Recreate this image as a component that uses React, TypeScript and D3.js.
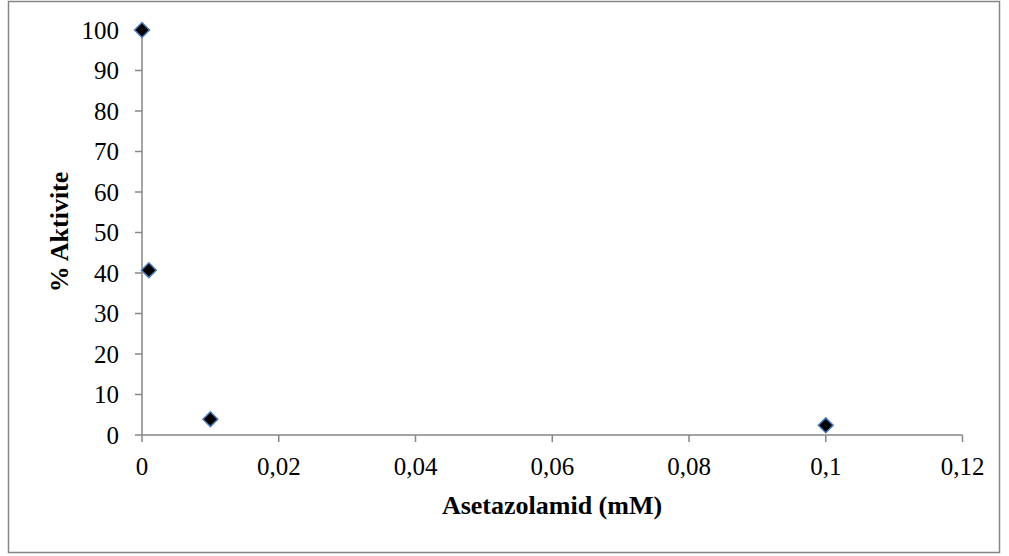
import React from 'react';
import * as d3 from 'd3';

const concentrations = [0, 0.001, 0.01, 0.1];
const activities = [100, 40.7, 3.9, 2.4];
const xTicks = [0, 0.02, 0.04, 0.06, 0.08, 0.1, 0.12];
const yTicks = [0, 10, 20, 30, 40, 50, 60, 70, 80, 90, 100];

export default function App() {
  const width = 1009;
  const height = 556;
  const x = d3.scaleLinear().domain([0, 0.12]).range([142, 962.5]);
  const y = d3.scaleLinear().domain([0, 100]).range([435, 30]);
  const fmt = (v: number) => String(+v.toFixed(2)).replace('.', ',');
  const diamond = d3.symbol().type(d3.symbolDiamond2).size(140);
  const axisColor = '#868686';
  const font = '"Liberation Serif", "Times New Roman", serif';

  return (
    <svg
      width={width}
      height={height}
      style={{ position: 'absolute', top: 0, left: 0, display: 'block' }}
      fontFamily={font}
    >
      <rect x={0} y={0} width={width} height={height} fill="#fff" />
      <rect x={8.5} y={1.5} width={991} height={551} fill="#fff" stroke={axisColor} strokeWidth={1.5} />

      {/* y axis */}
      <line x1={x(0)} x2={x(0)} y1={y(0)} y2={y(100)} stroke={axisColor} strokeWidth={1.5} />
      {yTicks.map(t => (
        <g key={'y' + t}>
          <line x1={x(0) - 7} x2={x(0)} y1={y(t)} y2={y(t)} stroke={axisColor} strokeWidth={1.5} />
          <text x={x(0) - 23} y={y(t)} dy="0.35em" textAnchor="end" fontSize={25} fill="#000">
            {t}
          </text>
        </g>
      ))}

      {/* x axis */}
      <line x1={x(0)} x2={x(0.12)} y1={y(0)} y2={y(0)} stroke={axisColor} strokeWidth={1.5} />
      {xTicks.map(t => (
        <g key={'x' + t}>
          <line x1={x(t)} x2={x(t)} y1={y(0)} y2={y(0) + 7} stroke={axisColor} strokeWidth={1.5} />
          <text x={x(t)} y={475} textAnchor="middle" fontSize={25} fill="#000">
            {fmt(t)}
          </text>
        </g>
      ))}

      <text x={552} y={514} textAnchor="middle" fontSize={26} fontWeight="bold" fill="#000">
        Asetazolamid (mM)
      </text>
      <text
        transform={`translate(68,232) rotate(-90)`}
        textAnchor="middle"
        fontSize={26}
        fontWeight="bold"
        fill="#000"
      >
        % Aktivite
      </text>

      {concentrations.map((c, i) => (
        <path
          key={'p' + i}
          d={diamond() as string}
          transform={`translate(${x(c)},${y(activities[i])})`}
          fill="#000"
          stroke="#4a7ebb"
          strokeWidth={1.5}
        />
      ))}
    </svg>
  );
}
